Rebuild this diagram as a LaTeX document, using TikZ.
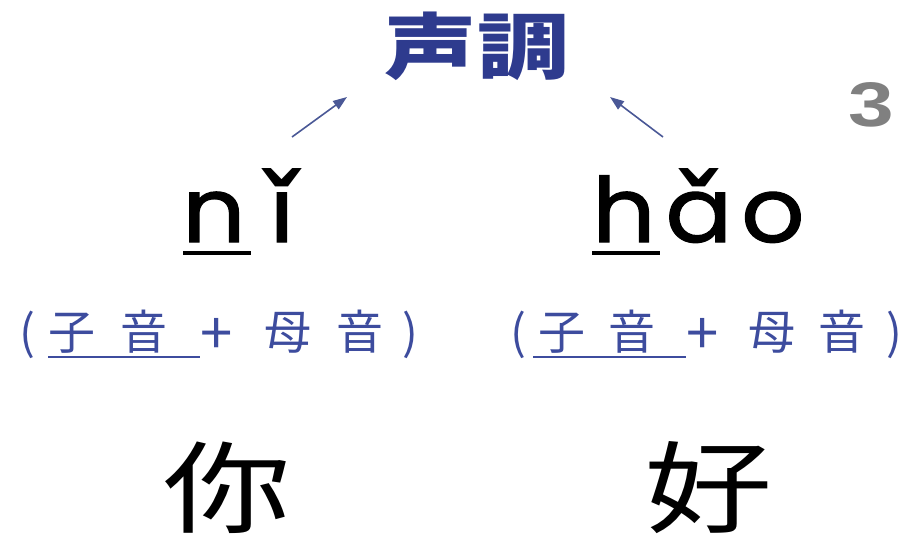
\documentclass[tikz,border=0pt]{standalone}
\usepackage{fontspec}
\usetikzlibrary{arrows.meta}
\newfontfamily\cjk{Noto Sans CJK JP}
\newfontfamily\pyfont{Poppins}[FakeBold=1.3]
\newfontfamily\caronfont{DejaVu Sans Bold}
\newfontfamily\numfont{Liberation Sans}
\definecolor{navy}{HTML}{2E3B8E}
\definecolor{lblue}{HTML}{3D4C9E}
\definecolor{arrowc}{HTML}{4A5896}
\definecolor{numgray}{HTML}{808080}
\newcommand\cb[2]{\makebox[#1pt][c]{#2}}
\newcommand\cv[1]{{\ooalign{#1\cr\hidewidth\raisebox{-6pt}{\caronfont\fontsize{100}{100}\selectfont ˇ}\hidewidth\cr}}}
\tikzset{
  title/.style={inner sep=0pt, text=navy, xscale=1.28, font=\cjk\bfseries\fontsize{72}{72}\selectfont},
  pinyin/.style={inner sep=0pt, anchor=base west, xscale=1.1, font=\pyfont\fontsize{90}{90}\selectfont},
  parts/.style={inner sep=0pt, anchor=west, text=lblue, font=\cjk\fontsize{47}{47}\selectfont},
  hanzi/.style={inner sep=0pt, xscale=1.28, font=\cjk\fontsize{100}{100}\selectfont},
  tonearrow/.style={draw=arrowc, line width=1.6pt, -{Triangle[length=14pt,width=10pt]}},
  uline/.style={line width=3.5pt},
  ulineb/.style={draw=lblue, line width=1.6pt},
}
\begin{document}
\begin{tikzpicture}[x=1pt,y=-1pt]
\useasboundingbox (0,0) rectangle (912,540);
\node[title] (tone) at (477,46) {声調};
\node[inner sep=0pt, text=numgray, font=\numfont\bfseries\fontsize{63}{63}\selectfont, xscale=1.3] (three) at (871,105) {3};
\node[pinyin] (ni) at (182,242) {n\kern22pt\cv{ı}};
\node[pinyin] (hao) at (592,242) {h\kern9pt\cv{a}\kern8pt o};
\draw[uline] (183,253) coordinate (nu1) -- (251,253) coordinate (nu2);
\draw[uline] (592,253) coordinate (hu1) -- (660,253) coordinate (hu2);
\coordinate (la1) at (292,137); \coordinate (la2) at (347,97);
\coordinate (ra1) at (663,137); \coordinate (ra2) at (610,97);
\draw[tonearrow] (la1) -- (la2);
\draw[tonearrow] (ra1) -- (ra2);
\node[parts] (pl) at (18,334) {\cb{18}{(}\cb{72}{子}\cb{72}{音}\cb{72}{\raisebox{-5pt}{\fontsize{58}{58}\selectfont +}}\cb{72}{母}\cb{72}{音}\cb{28}{)}};
\node[parts] (pr) at (509,334) {\cb{18}{(}\cb{70}{子}\cb{70}{音}\cb{70}{\raisebox{-5pt}{\fontsize{58}{58}\selectfont +}}\cb{70}{母}\cb{70}{音}\cb{34}{)}};
\draw[ulineb] (48,357) coordinate (pu1) -- (200,357) coordinate (pu2);
\draw[ulineb] (533,357) coordinate (pu3) -- (686,357) coordinate (pu4);
\node[hanzi] (you) at (227,488) {你};
\node[hanzi] (hao2) at (708,488) {好};
\end{tikzpicture}
\end{document}
